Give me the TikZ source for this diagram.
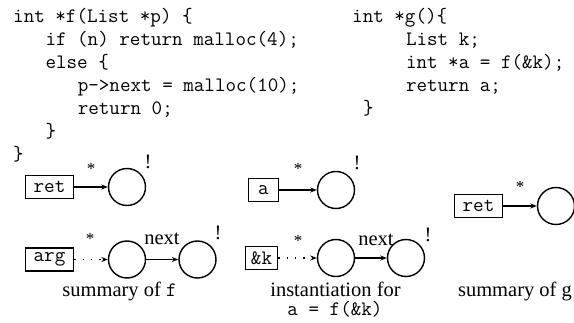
\documentclass[tikz,border=0pt]{standalone}
\usepackage{fontspec}
\setmainfont{Liberation Serif}
\usetikzlibrary{arrows.meta}
\begin{document}
\begin{tikzpicture}[x=1pt,y=-1pt,
  every node/.style={font=\fontsize{20.5}{23}\selectfont},
  code/.style={anchor=base west, inner sep=0pt, font=\fontsize{20.5}{23}\selectfont\ttfamily},
  lbl/.style={anchor=base, inner sep=0pt},
  star/.style={anchor=base, inner sep=0pt, font=\fontsize{17}{20}\selectfont},
  var/.style={draw, line width=1.5pt, inner sep=0pt, minimum height=23pt, font=\fontsize{20.5}{23}\selectfont\ttfamily},
  obj/.style={draw, circle, line width=1.4pt, inner sep=0pt, minimum size=37pt},
  edge/.style={line width=1.4pt, -{Stealth[length=6.5pt,width=5pt]}},
  dedge/.style={edge, dash pattern=on 1.4pt off 7pt}]
\useasboundingbox (0,0) rectangle (574,323);
% code of f
\node[code] (l1) at (13,23) {int *f(List *p) \{};
\node[code] (l2) at (45.3,46) {if (n) return malloc(4);};
\node[code] (l3) at (45.3,69) {else \{};
\node[code] (l4) at (77.6,92) {p->next = malloc(10);};
\node[code] (l5) at (77.6,115) {return 0;};
\node[code] (l6) at (45.3,138) {\}};
\node[code] (l7) at (13,161) {\}};
% code of g
\node[code] (r1) at (352,23) {int *g()\{};
\node[code] (r2) at (405.8,46) {List k;};
\node[code] (r3) at (405.8,69) {int *a = f(\&k);};
\node[code] (r4) at (405.8,92) {return a;};
\node[code] (r5) at (362.8,115) {\}};
% summary of f
\node[var, minimum width=48pt] (retf) at (49.5,187) {ret};
\node[obj] (cf1) at (127,187) {};
\node[var, minimum width=48pt] (argf) at (49.5,259.5) {arg};
\node[obj] (cf2) at (127,259.5) {};
\node[obj] (cf3) at (197.5,259.5) {};
\draw[edge] (retf.east) -- (cf1.west);
\draw[dedge] (argf.east) -- (cf2.west);
\draw[edge] (cf2.east) -- (cf3.west);
\node[star] (sf1) at (91,175) {*};
\node[lbl] (ef1) at (148,169) {!};
\node[star] (sf2) at (90,244.5) {*};
\node[lbl] (nf) at (162,245) {next};
\node[lbl] (ef2) at (218,240) {!};
\node[lbl] (capf) at (119.5,297) {summary of \texttt{f}};
% instantiation
\node[var, minimum width=30pt] (aI) at (263.5,190) {a};
\node[obj] (cI1) at (336,190) {};
\node[var, minimum width=32pt] (kI) at (261.5,258) {\&k};
\node[obj] (cI2) at (336,258) {};
\node[obj] (cI3) at (406,258) {};
\draw[edge] (aI.east) -- (cI1.west);
\draw[dedge] (kI.east) -- (cI2.west);
\draw[edge] (cI2.east) -- (cI3.west);
\node[star] (sI1) at (298,174.5) {*};
\node[lbl] (eI1) at (357,170) {!};
\node[star] (sI2) at (298,246.5) {*};
\node[lbl] (nI) at (376,246) {next};
\node[lbl] (eI2) at (428,242) {!};
\node[lbl] (capI1) at (335.5,297) {instantiation for};
\node[lbl] (capI2) at (335,316) {\texttt{a = f(\&k)}};
% summary of g
\node[var, minimum width=48pt] (retg) at (478.5,206) {ret};
\node[obj] (cg) at (556,206) {};
\draw[edge] (retg.east) -- (cg.west);
\node[star] (sg) at (520,193) {*};
\node[lbl] (capg) at (515,297) {summary of g};
\end{tikzpicture}
\end{document}
